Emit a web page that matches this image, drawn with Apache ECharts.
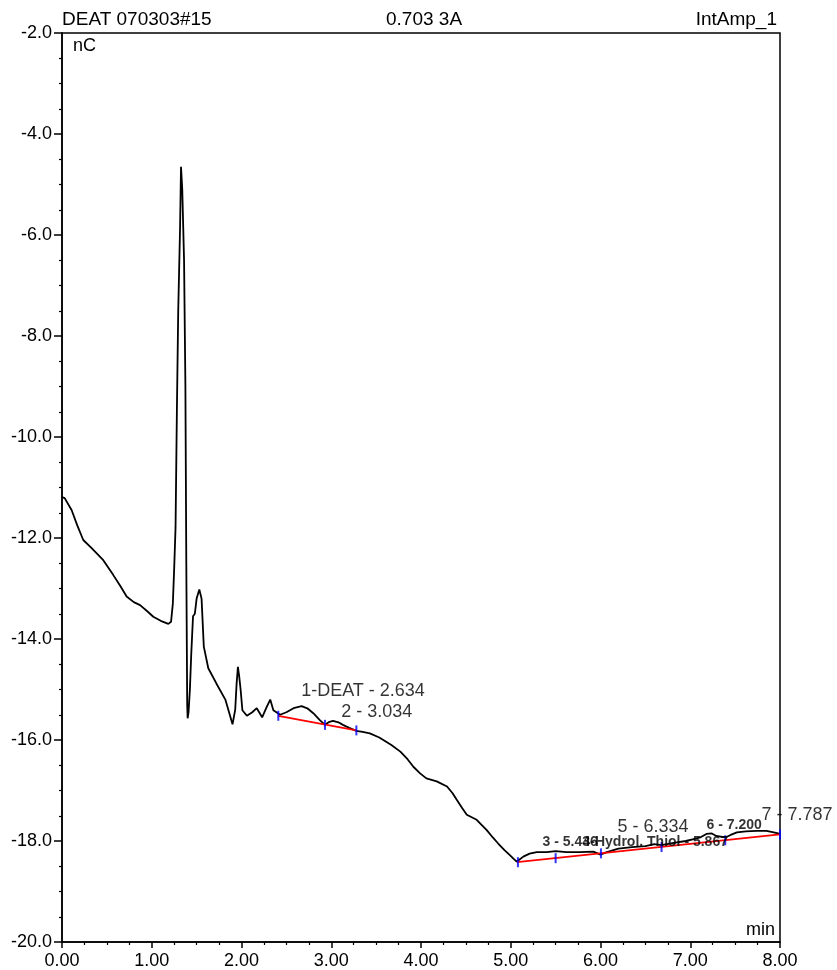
<!DOCTYPE html>
<html>
<head>
<meta charset="utf-8">
<script src="https://cdn.jsdelivr.net/npm/echarts@6/dist/echarts.min.js"></script>
<style>
html,body{margin:0;padding:0;background:#fff;}
#chart{width:837px;height:970px;}
</style>
</head>
<body>
<div id="chart"></div>
<script>
// ---- data ----
const times = [0,0.03,0.108,0.17,0.237,0.33,0.46,0.57,0.65,0.72,0.80,0.87,0.95,1.017,1.10,1.185,1.215,1.235,1.25,1.265,1.28,1.295,1.305,1.315,1.326,1.34,1.35,1.36,1.375,1.385,1.395,1.40,1.41,1.425,1.44,1.46,1.48,1.50,1.53,1.555,1.58,1.63,1.72,1.82,1.90,1.93,1.945,1.96,1.975,1.99,2.01,2.06,2.12,2.17,2.23,2.28,2.32,2.355,2.43,2.5,2.58,2.67,2.74,2.80,2.87,2.93,2.98,3.02,3.08,3.13,3.2,3.28,3.35,3.43,3.535,3.58,3.67,3.77,3.85,3.915,3.99,4.06,4.175,4.29,4.35,4.40,4.46,4.51,4.62,4.73,4.80,4.86,4.93,4.99,5.03,5.066,5.14,5.21,5.29,5.40,5.50,5.62,5.77,5.92,6.00,6.07,6.2,6.35,6.5,6.60,6.68,6.80,6.95,7.05,7.11,7.18,7.24,7.29,7.39,7.45,7.52,7.62,7.74,7.85,7.93,8.0];
const signal = [-11.19,-11.21,-11.45,-11.75,-12.04,-12.2,-12.44,-12.73,-12.95,-13.16,-13.27,-13.33,-13.45,-13.56,-13.64,-13.70,-13.66,-13.3,-12.6,-11.8,-9.5,-7.5,-6.7,-5.9,-4.65,-5.1,-5.8,-6.5,-9.0,-12.5,-15.3,-15.57,-15.45,-15.0,-14.3,-13.55,-13.5,-13.2,-13.02,-13.2,-14.15,-14.58,-14.88,-15.2,-15.69,-15.4,-14.9,-14.55,-14.75,-15.0,-15.41,-15.52,-15.45,-15.37,-15.55,-15.35,-15.2,-15.41,-15.5,-15.45,-15.37,-15.33,-15.38,-15.47,-15.6,-15.70,-15.64,-15.62,-15.65,-15.70,-15.76,-15.82,-15.84,-15.87,-15.95,-16.0,-16.1,-16.23,-16.38,-16.53,-16.66,-16.76,-16.82,-16.92,-17.05,-17.19,-17.35,-17.48,-17.58,-17.78,-17.93,-18.05,-18.18,-18.28,-18.35,-18.41,-18.31,-18.25,-18.22,-18.22,-18.20,-18.22,-18.22,-18.21,-18.27,-18.22,-18.15,-18.12,-18.10,-18.06,-18.08,-18.04,-18.0,-17.96,-17.93,-17.86,-17.85,-17.90,-17.93,-17.88,-17.83,-17.81,-17.80,-17.80,-17.83,-17.86];

const baseline1Times = [2.41, 3.28];
const baseline1Values = [-15.52, -15.81];
const baseline2Times = [5.07, 8.0];
const baseline2Values = [-18.42, -17.87];

const delimiterTimes = [2.41, 2.93, 3.28, 5.08, 5.50, 6.005, 6.68, 7.39, 8.0];
const delimiterValues = [-15.52, -15.70, -15.81, -18.42, -18.34, -18.245, -18.12, -17.985, -17.87];

const peakLabels = ['1-DEAT - 2.634', '2 - 3.034', '3 - 5.436', '4-Hydrol. Thiol - 5.867', '5 - 6.334', '6 - 7.200', '7 - 7.787'];
const peakLabelTimes = [2.67, 3.116, 5.36, 5.805, 6.195, 7.187, 7.80];
const peakLabelValues = [-15.05, -15.45, -18.04, -18.04, -17.74, -17.70, -17.49];
const peakLabelBold = [false, false, true, true, false, true, false];

const xTicks = [0, 1, 2, 3, 4, 5, 6, 7, 8];
const yTicks = [-20, -18, -16, -14, -12, -10, -8, -6, -4, -2];

const headerLeft = 'DEAT 070303#15';
const headerMid = '0.703 3A';
const headerRight = 'IntAmp_1';
const yUnit = 'nC';
const xUnit = 'min';

// ---- chart ----
const FONT = '"Liberation Sans", Arial, Helvetica, sans-serif';
const chart = echarts.init(document.getElementById('chart'), null, {renderer: 'canvas'});

const pair = (xs, ys) => xs.map((x, i) => [x, ys[i]]);

const option = {
  backgroundColor: '#ffffff',
  animation: false,
  title: [
    {text: headerLeft, left: 62, top: 10, padding: 0, textStyle: {fontFamily: FONT, fontSize: 19, fontWeight: 'normal', color: '#000'}},
    {text: headerMid, left: 386, top: 10, padding: 0, textStyle: {fontFamily: FONT, fontSize: 19, fontWeight: 'normal', color: '#000'}},
    {text: headerRight, right: 60, top: 10, padding: 0, textStyle: {fontFamily: FONT, fontSize: 19, fontWeight: 'normal', color: '#000'}}
  ],
  graphic: [
    {type: 'text', left: 73, top: 37, style: {text: yUnit, fontFamily: FONT, fontSize: 18, fill: '#000'}},
    {type: 'text', right: 62, top: 921, style: {text: xUnit, fontFamily: FONT, fontSize: 18, fill: '#000'}}
  ],
  grid: {left: 62, right: 57, top: 33, bottom: 28, show: true, borderColor: '#000', borderWidth: 1.5, backgroundColor: 'transparent'},
  xAxis: {
    type: 'value', min: xTicks[0], max: xTicks[xTicks.length - 1], interval: 1,
    axisLine: {show: true, onZero: false, lineStyle: {color: '#000', width: 1.5}},
    axisTick: {show: true, inside: false, length: 6, lineStyle: {color: '#000', width: 1.5}},
    minorTick: {show: true, splitNumber: 4, length: 3, lineStyle: {color: '#000', width: 1.2}},
    axisLabel: {fontFamily: FONT, fontSize: 18, color: '#000', margin: 10, formatter: v => v.toFixed(2)},
    splitLine: {show: false}
  },
  yAxis: {
    type: 'value', min: yTicks[0], max: yTicks[yTicks.length - 1], interval: 2,
    axisLine: {show: true, onZero: false, lineStyle: {color: '#000', width: 1.5}},
    axisTick: {show: true, inside: false, length: 8, lineStyle: {color: '#000', width: 1.5}},
    minorTick: {show: true, splitNumber: 4, length: 3, lineStyle: {color: '#000', width: 1.2}},
    axisLabel: {fontFamily: FONT, fontSize: 18, color: '#000', margin: 10, formatter: v => v.toFixed(1)},
    splitLine: {show: false}
  },
  series: [
    {
      name: 'signal', type: 'line', data: pair(times, signal), symbol: 'none',
      lineStyle: {color: '#000', width: 1.8}, z: 3
    },
    {
      name: 'baseline1', type: 'line', data: pair(baseline1Times, baseline1Values), symbol: 'none',
      lineStyle: {color: '#ff0000', width: 1.8}, z: 4
    },
    {
      name: 'baseline2', type: 'line', data: pair(baseline2Times, baseline2Values), symbol: 'none',
      lineStyle: {color: '#ff0000', width: 1.8}, z: 4
    },
    {
      name: 'delimiters', type: 'scatter', data: pair(delimiterTimes, delimiterValues),
      symbol: 'rect', symbolSize: [2, 10], itemStyle: {color: '#0000ff'}, z: 5, clip: false
    },
    {
      name: 'labels', type: 'scatter', z: 6, clip: false,
      symbolSize: 1, itemStyle: {color: 'rgba(0,0,0,0)'},
      data: peakLabels.map((t, i) => ({
        value: [peakLabelTimes[i], peakLabelValues[i]],
        label: {
          show: true, formatter: t, position: [0, 0], align: 'left', verticalAlign: 'middle',
          fontFamily: FONT, color: '#000',
          fontSize: peakLabelBold[i] ? 14 : 18,
          fontWeight: peakLabelBold[i] ? 'bold' : 'normal'
        }
      }))
    }
  ]
};
chart.setOption(option);
</script>
</body>
</html>
